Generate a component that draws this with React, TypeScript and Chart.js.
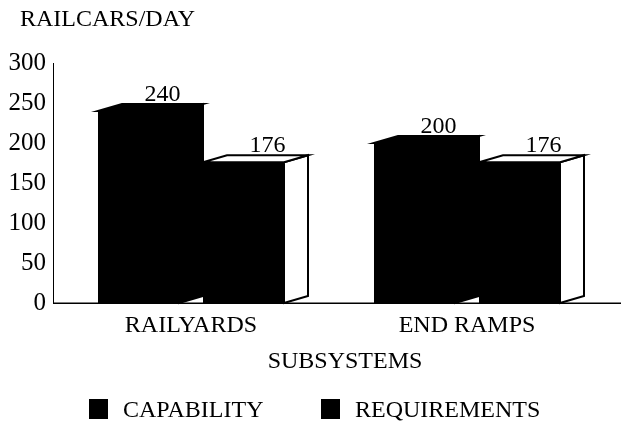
import React, { useEffect, useRef } from "react";
import { Chart, registerables } from "chart.js";

Chart.register(...registerables);

const categories = ["RAILYARDS", "END RAMPS"];
const seriesNames = ["CAPABILITY", "REQUIREMENTS"];
const capability = [240, 200];
const requirements = [176, 176];
const yTicks = [0, 50, 100, 150, 200, 250, 300];

const FONT = '"Liberation Serif", "Times New Roman", serif';
const DX = 24;
const DY = -7;

const bar3d = {
  id: "bar3d",
  beforeDatasetsDraw(chart: any) {
    const ctx = chart.ctx;
    const area = chart.chartArea;
    ctx.save();
    ctx.strokeStyle = "#000";
    ctx.lineWidth = 1.5;
    ctx.beginPath();
    ctx.moveTo(area.left, area.bottom + 0.25);
    ctx.lineTo(621, area.bottom + 0.25);
    ctx.stroke();
    ctx.restore();
  },
  afterDatasetsDraw(chart: any) {
    const ctx = chart.ctx;
    ctx.save();
    chart.data.datasets.forEach((ds: any, di: number) => {
      const meta = chart.getDatasetMeta(di);
      meta.data.forEach((el: any, i: number) => {
        const { x, y, base, width } = el.getProps(["x", "y", "base", "width"], true);
        const l = x - width / 2;
        const r = x + width / 2;
        const faceFill = di === 0 ? "#000" : "#fff";
        ctx.lineWidth = 2;
        ctx.strokeStyle = "#000";
        ctx.lineJoin = "miter";
        // side face
        ctx.beginPath();
        ctx.moveTo(r, base);
        ctx.lineTo(r + DX, base + DY);
        ctx.lineTo(r + DX, y + DY);
        ctx.lineTo(r, y);
        ctx.closePath();
        ctx.fillStyle = faceFill;
        ctx.fill();
        ctx.stroke();
        // top face
        ctx.beginPath();
        ctx.moveTo(l, y);
        ctx.lineTo(l + DX, y + DY);
        ctx.lineTo(r + DX, y + DY);
        ctx.lineTo(r, y);
        ctx.closePath();
        ctx.fillStyle = faceFill;
        ctx.fill();
        ctx.stroke();
        // value label
        ctx.fillStyle = "#000";
        ctx.font = `24px ${FONT}`;
        ctx.textAlign = "center";
        ctx.textBaseline = "alphabetic";
        ctx.fillText(String(ds.data[i]), x + DX, y + DY - 3);
      });
    });
    ctx.restore();
  },
  afterDraw(chart: any) {
    const ctx = chart.ctx;
    ctx.save();
    ctx.fillStyle = "#000";
    ctx.textBaseline = "alphabetic";
    ctx.font = `24px ${FONT}`;
    // axis titles
    ctx.textAlign = "left";
    ctx.fillText("RAILCARS/DAY", 20, 26);
    ctx.textAlign = "center";
    ctx.fillText("SUBSYSTEMS", 345, 368);
    // legend
    const items = [
      { sq: 89, tx: 123 },
      { sq: 321, tx: 355 },
    ];
    ctx.textAlign = "left";
    items.forEach((it, k) => {
      ctx.fillStyle = "#000";
      ctx.fillRect(it.sq, 399, 19, 20);
      ctx.fillText(seriesNames[k], it.tx, 417);
    });
    ctx.restore();
  },
};

export default function App() {
  const ref = useRef<HTMLCanvasElement | null>(null);
  useEffect(() => {
    if (!ref.current) return;
    const chart = new Chart(ref.current, {
      type: "bar",
      data: {
        labels: categories,
        datasets: [
          {
            label: seriesNames[0],
            data: capability,
            backgroundColor: "#000",
            borderWidth: 0,
            categoryPercentage: 0.7609,
            barPercentage: 0.7714,
          },
          {
            label: seriesNames[1],
            data: requirements,
            backgroundColor: "#000",
            borderWidth: 0,
            categoryPercentage: 0.7609,
            barPercentage: 0.7714,
          },
        ],
      },
      options: {
        responsive: false,
        animation: false,
        layout: { padding: { top: 63, left: 0, right: 16, bottom: 79 } },
        plugins: {
          legend: { display: false },
          tooltip: { enabled: false },
          title: { display: false },
        },
        scales: {
          x: {
            grid: { display: false, drawTicks: false },
            border: { display: false },
            ticks: {
              color: "#000",
              font: { family: FONT, size: 24 },
              padding: 8,
            },
            afterFit: (s: any) => {
              s.height = 40;
            },
          },
          y: {
            min: 0,
            max: 300,
            afterBuildTicks: (s: any) => {
              s.ticks = yTicks.map((v) => ({ value: v }));
            },
            grid: { display: false, drawTicks: false },
            border: { display: true, color: "#000", width: 1 },
            ticks: {
              color: "#000",
              font: { family: FONT, size: 25 },
              padding: 7,
            },
            afterFit: (s: any) => {
              s.width = 53;
            },
          },
        },
      },
      plugins: [bar3d],
    });
    return () => chart.destroy();
  }, []);
  return (
    <div style={{ position: "absolute", left: 0, top: 0, width: 621, height: 422, background: "#fff" }}>
      <canvas ref={ref} width={621} height={422} style={{ display: "block" }} />
    </div>
  );
}
